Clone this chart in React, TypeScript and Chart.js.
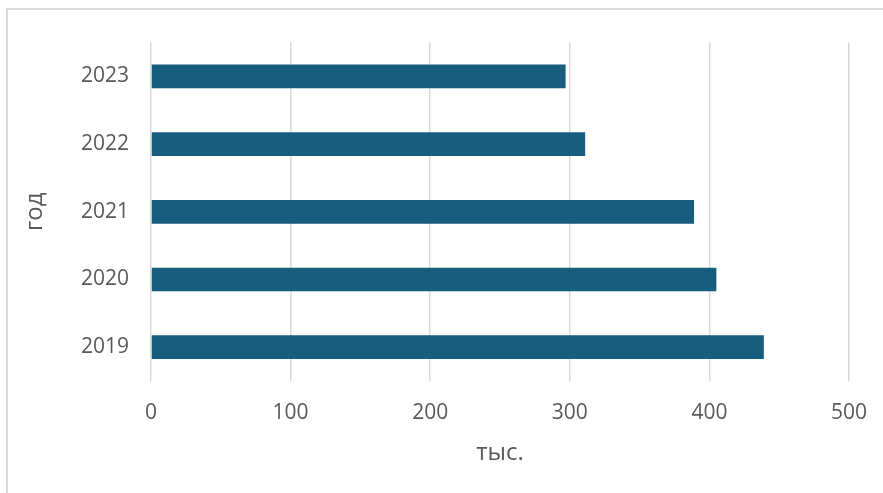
import React, { useEffect, useRef } from "react";
import { Chart, registerables } from "chart.js";

Chart.register(...registerables);

const categories = ["2023", "2022", "2021", "2020", "2019"];
const values = [297, 311, 389, 405, 439];
const xTicks = [0, 100, 200, 300, 400, 500];
const xTitle = "тыс.";
const yTitle = "год";

const FONT = "'Open Sans', 'Noto Sans', sans-serif";
const TEXT = "#595959";
const GRID = "#d9d9d9";
const BAR = "#175E7E";

export default function App() {
  const ref = useRef<HTMLCanvasElement | null>(null);

  useEffect(() => {
    if (!ref.current) return;
    const chart = new Chart(ref.current, {
      type: "bar",
      data: {
        labels: categories,
        datasets: [
          {
            data: values,
            backgroundColor: BAR,
            borderWidth: 0,
            barPercentage: 1,
            categoryPercentage: 0.35,
          },
        ],
      },
      options: {
        indexAxis: "y",
        animation: false,
        responsive: true,
        maintainAspectRatio: false,
        layout: { padding: { left: 0, right: 26, top: 31, bottom: 0 } },
        plugins: { legend: { display: false }, tooltip: { enabled: false } },
        scales: {
          x: {
            min: xTicks[0],
            max: xTicks[xTicks.length - 1],
            afterBuildTicks: (s: any) => {
              s.ticks = xTicks.map((v) => ({ value: v }));
            },
            afterFit: (s: any) => {
              s.height = 104;
            },
            border: { display: false },
            grid: {
              color: GRID,
              lineWidth: 1.5,
              drawTicks: true,
              tickLength: 19,
              tickColor: "rgba(0,0,0,0)",
            },
            ticks: {
              color: TEXT,
              font: { family: FONT, size: 21 },
              padding: 0,
            },
            title: {
              display: true,
              text: xTitle,
              color: TEXT,
              font: { family: FONT, size: 24 },
              padding: { top: 4, bottom: 17 },
            },
          },
          y: {
            afterFit: (s: any) => {
              s.width = 143;
            },
            border: { display: false },
            grid: { display: false, drawTicks: false },
            ticks: {
              color: TEXT,
              font: { family: FONT, size: 21 },
              padding: 22,
            },
            title: {
              display: true,
              text: yTitle,
              color: TEXT,
              font: { family: FONT, size: 24 },
              padding: { top: 13, bottom: 4 },
            },
          },
        },
      },
    });
    return () => chart.destroy();
  }, []);

  return (
    <div
      style={{
        position: "fixed",
        left: 0,
        top: 0,
        width: 883,
        height: 493,
        overflow: "hidden",
        background: "#fff",
      }}
    >
      <div
        style={{
          position: "absolute",
          left: 6,
          top: 8,
          width: 900,
          height: 500,
          borderLeft: `2px solid ${GRID}`,
          borderTop: `2px solid ${GRID}`,
        }}
      />
      <div style={{ position: "absolute", left: 8, top: 8, width: 867, height: 477 }}>
        <canvas ref={ref} />
      </div>
    </div>
  );
}
